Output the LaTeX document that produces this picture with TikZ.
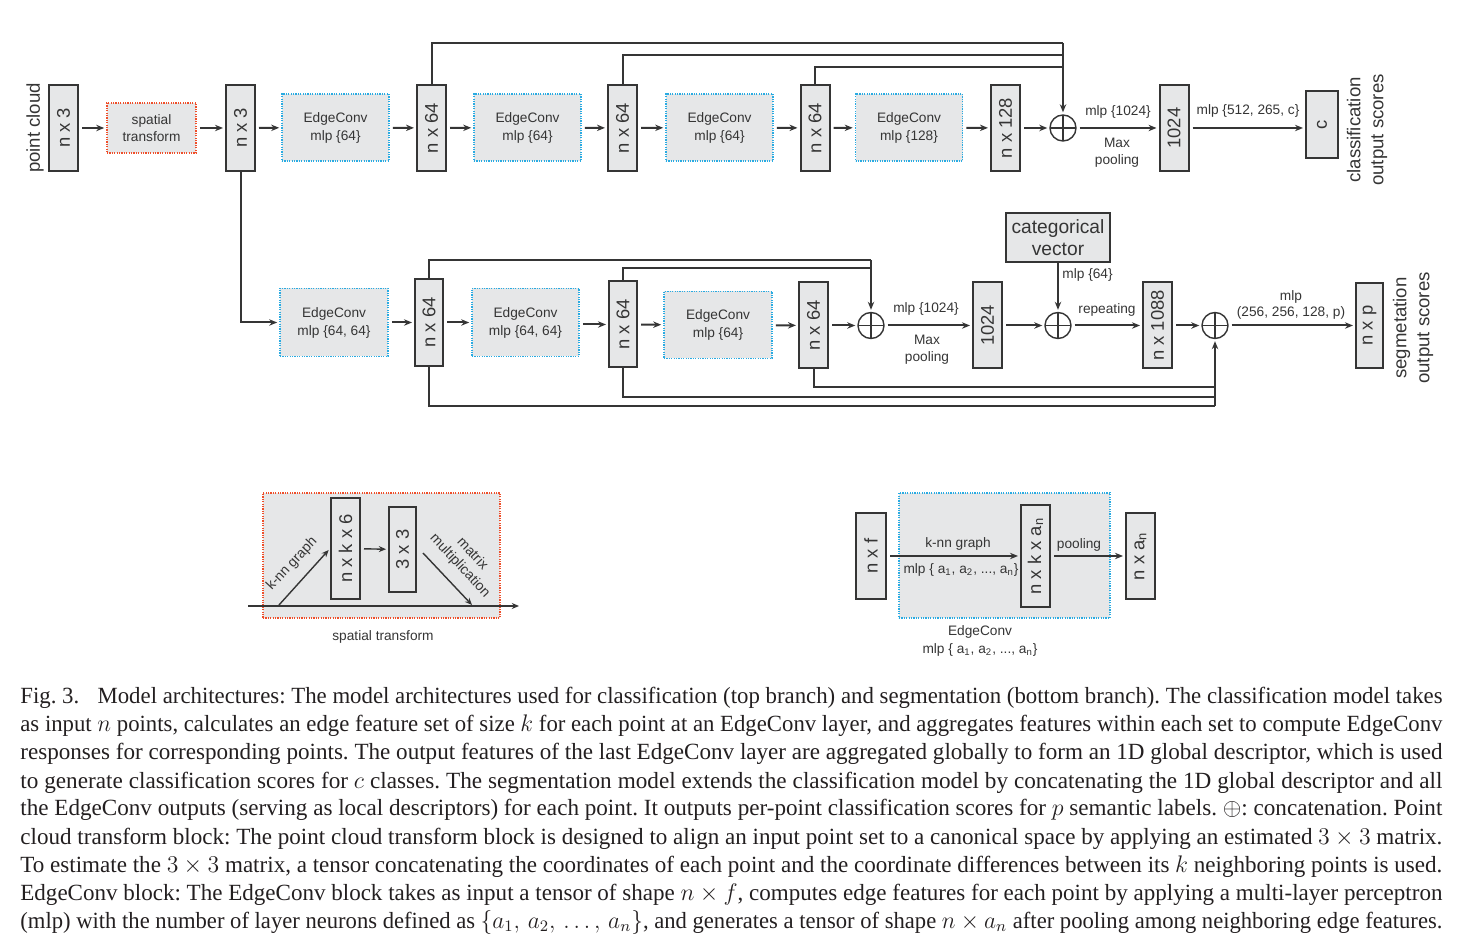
\documentclass[tikz,border=0pt]{standalone}
\usepackage{fontspec}
\setmainfont{Liberation Serif}
\setsansfont{Liberation Sans}
\usetikzlibrary{arrows.meta}
\definecolor{boxfill}{HTML}{E6E7E8}
\definecolor{ink}{HTML}{353535}
\definecolor{redd}{HTML}{EF4E2A}
\definecolor{bluu}{HTML}{29ABE2}
\definecolor{captxt}{HTML}{231F20}
\newcommand\capline[1]{\sbox0{#1}\ifdim\wd0>711pt\relax\resizebox{711pt}{\height}{#1}\else\hbox to 711pt{#1}\fi}
\frenchspacing
\begin{document}
\begin{tikzpicture}[x=0.5pt,y=-0.5pt,
  lbl/.style={font=\sffamily\fontsize{6.85}{9}\selectfont, text=ink, inner sep=0},
  bigl/.style={font=\sffamily\fontsize{9.3}{11.5}\selectfont, text=ink, inner sep=0},
  vbox/.style={draw=ink, line width=1pt, fill=boxfill, inner sep=0, font=\sffamily\fontsize{9.2}{10}\selectfont, text=ink, minimum width=14.5pt, minimum height=43pt},
  ecbox/.style={draw=bluu, line width=0.8pt, dash pattern=on 0.6pt off 0.6pt, fill=boxfill, inner sep=0, align=center, font=\sffamily\fontsize{6.85}{9}\selectfont, text=ink, minimum width=53.5pt, minimum height=33.5pt},
  stbox/.style={ecbox, draw=redd},
  catbox/.style={draw=ink, line width=1pt, fill=boxfill, inner sep=0, align=center, font=\sffamily\fontsize{9.6}{11}\selectfont, text=ink, minimum width=52pt, minimum height=24.5pt},
  ln/.style={draw=ink, line width=1pt},
  arr/.style={draw=ink, line width=1pt, -{Stealth[length=4pt,width=3.2pt]}, shorten >=1pt},
  arrs/.style={arr, shorten <=1.5pt},
  tarr/.style={draw=ink, line width=0.7pt, -{Stealth[length=3.6pt,width=3pt]}},
  oplus/.style={circle, draw=ink, line width=0.7pt, minimum size=13pt, inner sep=0, fill=white,
    path picture={\draw[ink, line width=0.6pt] (path picture bounding box.north) -- (path picture bounding box.south) (path picture bounding box.west) -- (path picture bounding box.east);}},
  capt/.style={font=\rmfamily\fontsize{11.6}{13}\selectfont, text=captxt, inner sep=0}
]
\useasboundingbox (0,0) rectangle (1458,946);

% ---------------- top row ----------------
\node[bigl] (pc) at (35,128) {\rotatebox{90}{point cloud}};
\node[vbox] (b1) at (63.5,128) {\rotatebox{90}{n x 3}};
\node[stbox, minimum width=44.5pt, minimum height=25pt, font=\sffamily\fontsize{6.85}{8.5}\selectfont] (st) at (151.5,128) {spatial\\transform};
\node[vbox] (b2) at (240.5,128) {\rotatebox{90}{n x 3}};
\node[ecbox] (e1) at (335.5,127.5) {EdgeConv\\mlp \{64\}};
\node[vbox] (b3) at (431.5,128) {\rotatebox{90}{n x 64}};
\node[ecbox] (e2) at (527.5,127.5) {EdgeConv\\mlp \{64\}};
\node[vbox] (b4) at (622.5,128) {\rotatebox{90}{n x 64}};
\node[ecbox] (e3) at (719.5,127.5) {EdgeConv\\mlp \{64\}};
\node[vbox] (b5) at (815,128) {\rotatebox{90}{n x 64}};
\node[ecbox] (e4) at (909,127.5) {EdgeConv\\mlp \{128\}};
\node[vbox] (b6) at (1005.5,128) {\rotatebox{90}{n x 128}};
\node[oplus] (c1) at (1063,128) {};
\node[vbox] (b7) at (1174,128) {\rotatebox{90}{1024}};
\node[vbox, minimum width=16pt, minimum height=33.5pt] (oc) at (1322,124.5) {\rotatebox{90}{c}};
\node[bigl, rotate=90, align=center] (ocl) at (1367,130) {classification\\output scores};

\draw[arrs] (b1) -- (st);
\draw[arrs] (st) -- (b2);
\draw[arrs] (b2) -- (e1);
\draw[arrs] (e1) -- (b3);
\draw[arrs] (b3) -- (e2);
\draw[arrs] (e2) -- (b4);
\draw[arrs] (b4) -- (e3);
\draw[arrs] (e3) -- (b5);
\draw[arrs] (b5) -- (e4);
\draw[arrs] (e4) -- (b6);
\draw[arrs] (b6) -- (c1);
\draw[arrs] (c1) -- (b7);
\draw[arrs] (b7.east) -- (b7.east -| oc.west);
\node[lbl] (l1) at (1118,112) {mlp \{1024\}};
\node[lbl, align=center, font=\sffamily\fontsize{6.85}{8.5}\selectfont] (l2) at (1117,152.5) {Max\\pooling};
\node[lbl] (l3) at (1248,111) {mlp \{512, 265, c\}};

\coordinate (k1) at (1063,43);
\coordinate (k2) at (1063,55);
\coordinate (k3) at (1063,67);
\draw[ln] (b3.north) |- (k1);
\draw[ln] (b4.north) |- (k2);
\draw[ln] (b5.north) |- (k3);
\draw[arr] (k1) -- (c1.north);

% ---------------- bottom row ----------------
\node[ecbox, minimum width=54pt, minimum height=34pt] (f1) at (334,322.5) {EdgeConv\\mlp \{64, 64\}};
\node[vbox, minimum width=14pt, minimum height=43.5pt] (d1) at (429,322.5) {\rotatebox{90}{n x 64}};
\node[ecbox, minimum width=53.5pt, minimum height=34pt] (f2) at (525.5,322.5) {EdgeConv\\mlp \{64, 64\}};
\node[vbox, minimum width=14pt] (d2) at (623,324.5) {\rotatebox{90}{n x 64}};
\node[ecbox, minimum width=54pt] (f3) at (718,325) {EdgeConv\\mlp \{64\}};
\node[vbox] (d3) at (813.5,325.5) {\rotatebox{90}{n x 64}};
\node[oplus] (c2) at (871,325.5) {};
\node[vbox] (g1) at (987.5,325.5) {\rotatebox{90}{1024}};
\node[oplus] (c3) at (1058,325.5) {};
\node[catbox] (cat) at (1058,237.5) {categorical\\vector};
\node[vbox] (h1) at (1157.5,325.5) {\rotatebox{90}{n x 1088}};
\node[oplus] (c4) at (1215,325.5) {};
\node[vbox, minimum width=13.5pt, minimum height=42.5pt] (np) at (1369.5,325.5) {\rotatebox{90}{n x p}};
\node[bigl, rotate=90, align=center] (npl) at (1413,328) {segmetation\\output scores};

\draw[arr] (b2.south) |- (f1.west);
\draw[arrs] (f1) -- (d1);
\draw[arrs] (d1) -- (f2);
\draw[arrs] (f2.east |- d2.west) -- (d2.west);
\draw[arrs] (d2) -- (f3);
\draw[arrs] (f3) -- (d3);
\draw[arrs] (d3) -- (c2);
\draw[arrs] (c2) -- (g1);
\draw[arrs] (g1) -- (c3);
\draw[arr] (cat) -- (c3);
\draw[arrs] (c3) -- (h1);
\draw[arrs] (h1) -- (c4);
\draw[arrs] (c4) -- (np);
\node[lbl] (l4) at (926,309) {mlp \{1024\}};
\node[lbl, align=center, font=\sffamily\fontsize{6.85}{8.5}\selectfont] (l5) at (927,349.5) {Max\\pooling};
\node[lbl, anchor=west] (l6) at (1062,275) {mlp \{64\}};
\node[lbl] (l7) at (1107,310) {repeating};
\node[lbl, align=center, font=\sffamily\fontsize{6.85}{8}\selectfont] (l8) at (1291,305) {mlp\\(256, 256, 128, p)};

\coordinate (m1) at (871,260);
\coordinate (m2) at (871,268);
\draw[ln] (d1.north) |- (m1);
\draw[ln] (d2.north) |- (m2);
\draw[arr] (m1) -- (c2.north);
\coordinate (q1) at (1215,406);
\coordinate (q2) at (1215,397);
\coordinate (q3) at (1215,387);
\draw[ln] (d1.south) |- (q1);
\draw[ln] (d2.south) |- (q2);
\draw[ln] (d3.south) |- (q3);
\draw[arr] (q1) -- (c4.south);

% ---------------- inset: spatial transform ----------------
\node[stbox, minimum width=118.5pt, minimum height=62.5pt] (stb) at (381.5,555.5) {};
\coordinate (ax0) at (248,606);
\coordinate (ax1) at (519,606);
\draw[tarr] (ax0) -- (ax1);
\node[vbox, minimum width=14.5pt, minimum height=50.5pt] (nk6) at (345.5,548.5) {\rotatebox{90}{n x k x 6}};
\node[vbox, minimum width=13.5pt, minimum height=42.5pt] (m33) at (402.5,549.5) {\rotatebox{90}{3 x 3}};
\draw[tarr, shorten <=1.5pt, shorten >=1pt] (nk6) -- (m33);
\coordinate (kn0) at (279,605);
\draw[tarr, shorten >=1pt] (kn0) -- (nk6.west);
\coordinate (mm0) at (423,553);
\coordinate (mm1) at (472,605);
\draw[tarr] (mm0) -- (mm1);
\node[lbl, rotate=47, font=\sffamily\fontsize{7}{8}\selectfont] (knl) at (292,564) {k-nn graph};
\node[lbl, rotate=-47, align=center, font=\sffamily\fontsize{7}{8.5}\selectfont] (mml) at (466,560) {matrix\\multiplication};
\node[lbl] (stl) at (383,637) {spatial transform};

% ---------------- inset: EdgeConv ----------------
\node[ecbox, minimum width=105.5pt, minimum height=62.5pt] (ecb) at (1004.5,555.5) {};
\node[vbox, minimum width=15pt, minimum height=43pt] (nf) at (871,556) {\rotatebox{90}{n x f}};
\node[vbox, minimum width=14.5pt, minimum height=51pt] (nka) at (1035.5,556) {\rotatebox{90}{n x k x a\textsubscript{n}}};
\node[vbox, minimum width=14.5pt, minimum height=43pt] (na) at (1140.5,556) {\rotatebox{90}{n x a\textsubscript{n}}};
\draw[arrs] (nf) -- (nka);
\draw[arrs] (nka) -- (na);
\node[lbl] (l9) at (958,544) {k-nn graph};
\node[lbl] (l10) at (961,570) {mlp \{ a\textsubscript{1}, a\textsubscript{2}, ..., a\textsubscript{n}\}};
\node[lbl] (l11) at (1079,545) {pooling};
\node[lbl, align=center] (l12) at (980,641) {EdgeConv\\mlp \{ a\textsubscript{1}, a\textsubscript{2}, ..., a\textsubscript{n}\}};

% ---------------- caption ----------------
\node[capt, anchor=base west] (cap1) at (20,704) {\capline{Fig. 3.\hspace{0.8em}Model architectures: The model architectures used for classification (top branch) and segmentation (bottom branch). The classification model takes}};
\node[capt, anchor=base west] (cap2) at (20,732) {\capline{as input $n$ points, calculates an edge feature set of size $k$ for each point at an EdgeConv layer, and aggregates features within each set to compute EdgeConv}};
\node[capt, anchor=base west] (cap3) at (20,760) {\capline{responses for corresponding points. The output features of the last EdgeConv layer are aggregated globally to form an 1D global descriptor, which is used}};
\node[capt, anchor=base west] (cap4) at (20,788) {\capline{to generate classification scores for $c$ classes. The segmentation model extends the classification model by concatenating the 1D global descriptor and all}};
\node[capt, anchor=base west] (cap5) at (20,816) {\capline{the EdgeConv outputs (serving as local descriptors) for each point. It outputs per-point classification scores for $p$ semantic labels. $\oplus$: concatenation. Point}};
\node[capt, anchor=base west] (cap6) at (20,844) {\capline{cloud transform block: The point cloud transform block is designed to align an input point set to a canonical space by applying an estimated $3\times3$ matrix.}};
\node[capt, anchor=base west] (cap7) at (20,872) {\capline{To estimate the $3\times3$ matrix, a tensor concatenating the coordinates of each point and the coordinate differences between its $k$ neighboring points is used.}};
\node[capt, anchor=base west] (cap8) at (20,900) {\capline{EdgeConv block: The EdgeConv block takes as input a tensor of shape $n\times f$, computes edge features for each point by applying a multi-layer perceptron}};
\node[capt, anchor=base west] (cap9) at (20,928) {\capline{(mlp) with the number of layer neurons defined as $\{a_1,\, a_2,\, \ldots,\, a_n\}$, and generates a tensor of shape $n\times a_n$ after pooling among neighboring edge features.}};
\end{tikzpicture}
\end{document}
